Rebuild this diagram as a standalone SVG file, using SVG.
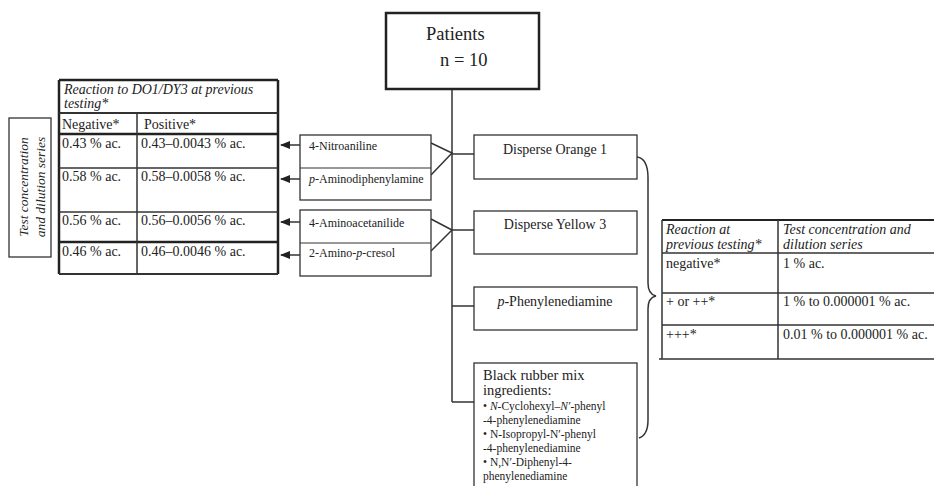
<svg xmlns="http://www.w3.org/2000/svg" width="934" height="486" viewBox="0 0 934 486">
<style>
text{font-family:"Liberation Serif","Times New Roman",serif;fill:#222}
.box{fill:#fff;stroke:#333;stroke-width:1.3}
.ln{fill:none;stroke:#333;stroke-width:1.5}
.thk{fill:none;stroke:#222;stroke-width:2.5}
.t14{font-size:14px}
.t13{font-size:14px}
.t12{font-size:12px}
.t11{font-size:11.5px}
.it{font-style:italic}
</style>
<defs>
<marker id="ah" viewBox="0 0 10 10" refX="9" refY="5" markerWidth="7" markerHeight="7" orient="auto-start-reverse">
<path d="M0,1 L10,5 L0,9 z" fill="#222"/>
</marker>
</defs>
<rect width="934" height="486" fill="#fff"/>

<g id="connectors">
<line class="ln" x1="452" y1="89" x2="452" y2="402"/>
<line class="ln" x1="452" y1="402" x2="474" y2="402"/>
<line class="ln" x1="452" y1="154" x2="474" y2="154"/>
<line class="ln" x1="452" y1="230" x2="474" y2="230"/>
<line class="ln" x1="452" y1="306" x2="474" y2="306"/>
<polyline class="ln" points="431,143 452,153 431,175"/>
<polyline class="ln" points="431,219 452,230 431,251"/>
<line class="ln" x1="300" y1="145" x2="281" y2="145" marker-end="url(#ah)"/>
<line class="ln" x1="300" y1="179" x2="281" y2="179" marker-end="url(#ah)"/>
<line class="ln" x1="300" y1="222" x2="281" y2="222" marker-end="url(#ah)"/>
<line class="ln" x1="300" y1="255" x2="281" y2="255" marker-end="url(#ah)"/>
<path class="ln" d="M637,157 C645,158 648,166 648,178 L648,283 C648,291 651,295 656,296 C651,297 648,301 648,309 L648,420 C648,430 645,436 639,438"/>
</g>

<g id="patients">
<rect x="386" y="13" width="153" height="76" fill="#fff" stroke="#222" stroke-width="2.5"/>
<text x="426" y="40" style="font-size:18.5px">Patients</text>
<text x="440" y="66" style="font-size:18.5px">n = 10</text>
</g>

<g id="disperse-orange">
<rect class="box" x="474" y="135" width="163" height="44"/>
<text class="t14" x="555" y="154" text-anchor="middle">Disperse Orange 1</text>
</g>
<g id="disperse-yellow">
<rect class="box" x="474" y="211" width="163" height="43"/>
<text class="t14" x="555" y="229" text-anchor="middle">Disperse Yellow 3</text>
</g>
<g id="ppd">
<rect class="box" x="474" y="287" width="163" height="43"/>
<text class="t14" x="555" y="306" text-anchor="middle"><tspan class="it">p</tspan>-Phenylenediamine</text>
</g>
<g id="black-rubber">
<rect class="box" x="474" y="363" width="163" height="130"/>
<text x="483" y="380" style="font-size:14.5px">Black rubber mix</text>
<text x="483" y="395" style="font-size:14.5px">ingredients:</text>
<text class="t11" x="483" y="410">• <tspan class="it">N</tspan>-Cyclohexyl–<tspan class="it">N′</tspan>-phenyl</text>
<text class="t11" x="483" y="424">-4-phenylenediamine</text>
<text class="t11" x="483" y="438">• N-Isopropyl-N′-phenyl</text>
<text class="t11" x="483" y="452">-4-phenylenediamine</text>
<text class="t11" x="483" y="466">• N,N′-Diphenyl-4-</text>
<text class="t11" x="483" y="480">phenylenediamine</text>
</g>

<g id="metabolites-do1">
<rect class="box" x="300" y="135" width="131" height="65"/>
<line class="ln" x1="300" y1="168" x2="431" y2="168" style="stroke-width:1.2"/>
<text class="t12" x="309" y="150">4-Nitroaniline</text>
<text class="t12" x="309" y="183"><tspan class="it">p</tspan>-Aminodiphenylamine</text>
</g>
<g id="metabolites-dy3">
<rect class="box" x="300" y="210" width="131" height="66"/>
<line class="ln" x1="300" y1="243" x2="431" y2="243" style="stroke-width:1.2"/>
<text class="t12" x="309" y="227">4-Aminoacetanilide</text>
<text class="t12" x="309" y="257">2-Amino-<tspan class="it">p</tspan>-cresol</text>
</g>

<g id="left-label">
<rect x="9" y="118" width="42" height="139" fill="#fff" stroke="#333" stroke-width="1.3"/>
<text class="t13 it" transform="translate(28,187) rotate(-90)" text-anchor="middle" style="font-size:13.5px">Test concentration</text>
<text class="t13 it" transform="translate(45,187) rotate(-90)" text-anchor="middle" style="font-size:13.5px">and dilution series</text>
</g>

<g id="left-table">
<rect x="59" y="80" width="219" height="194" fill="#fff" stroke="none"/>
<line class="thk" x1="59" y1="80" x2="278" y2="80"/>
<line class="thk" x1="59" y1="80" x2="59" y2="274"/>
<line class="thk" x1="278" y1="80" x2="278" y2="274"/>
<line class="ln" x1="59" y1="113" x2="278" y2="113" style="stroke-width:2"/>
<line class="thk" x1="59" y1="134" x2="278" y2="134"/>
<line class="ln" x1="59" y1="168" x2="278" y2="168"/>
<line class="ln" x1="59" y1="212" x2="278" y2="212"/>
<line class="thk" x1="59" y1="242" x2="278" y2="242"/>
<line class="ln" x1="59" y1="274" x2="278" y2="274" style="stroke-width:2"/>
<line class="ln" x1="137" y1="113" x2="137" y2="274"/>
<text class="t13 it" x="64" y="94">Reaction to DO1/DY3 at previous</text>
<text class="t13 it" x="64" y="108">testing*</text>
<text class="t13" x="62" y="129">Negative*</text>
<text class="t13" x="144" y="129">Positive*</text>
<text class="t13" x="62" y="148">0.43 % ac.</text>
<text class="t13" x="141" y="148">0.43–0.0043 % ac.</text>
<text class="t13" x="62" y="181">0.58 % ac.</text>
<text class="t13" x="141" y="181">0.58–0.0058 % ac.</text>
<text class="t13" x="62" y="225">0.56 % ac.</text>
<text class="t13" x="141" y="225">0.56–0.0056 % ac.</text>
<text class="t13" x="62" y="256">0.46 % ac.</text>
<text class="t13" x="141" y="256">0.46–0.0046 % ac.</text>
</g>

<g id="right-table">
<line class="thk" x1="662" y1="220" x2="934" y2="220" style="stroke-width:2"/>
<line class="ln" x1="662" y1="220" x2="662" y2="359"/>
<line class="ln" x1="778" y1="220" x2="778" y2="359"/>
<line class="ln" x1="662" y1="253" x2="934" y2="253"/>
<line class="ln" x1="662" y1="293" x2="934" y2="293"/>
<line class="ln" x1="662" y1="325" x2="934" y2="325"/>
<line class="ln" x1="659" y1="359" x2="934" y2="359"/>
<text class="t13 it" x="666" y="234">Reaction at</text>
<text class="t13 it" x="666" y="249">previous testing*</text>
<text class="t13 it" x="783" y="234">Test concentration and</text>
<text class="t13 it" x="783" y="249">dilution series</text>
<text class="t13" x="666" y="268">negative*</text>
<text class="t13" x="783" y="268">1 % ac.</text>
<text class="t13" x="666" y="306">+ or ++*</text>
<text class="t13" x="783" y="306">1 % to 0.000001 % ac.</text>
<text class="t13" x="666" y="339">+++*</text>
<text class="t13" x="783" y="339">0.01 % to 0.000001 % ac.</text>
</g>
</svg>
